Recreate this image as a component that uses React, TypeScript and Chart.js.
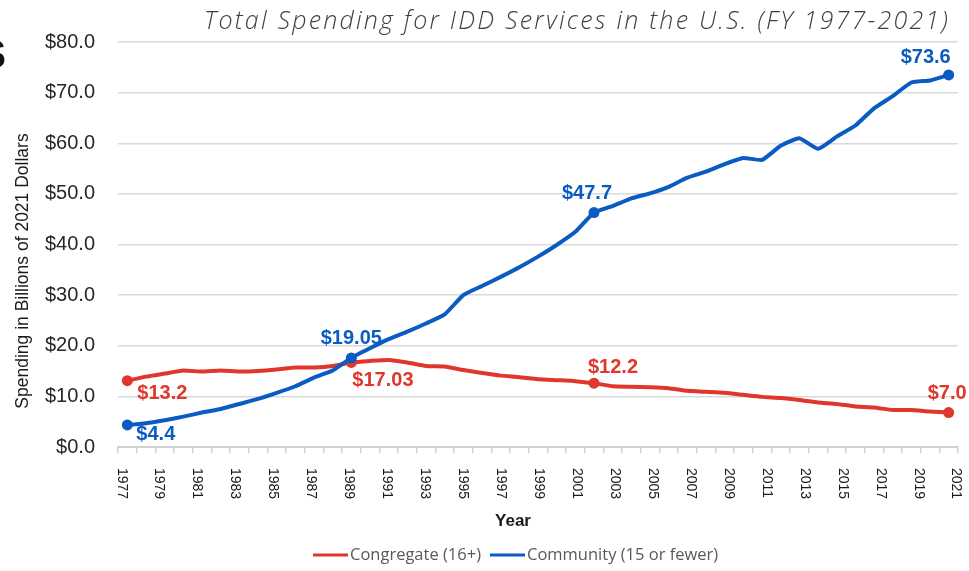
import React, { useEffect, useRef } from 'react';
import { Chart, registerables } from 'chart.js';

Chart.register(...registerables);

const TITLE = 'Total Spending for IDD Services in the U.S. (FY 1977-2021)';
const Y_TITLE = 'Spending in Billions of 2021 Dollars';
const X_TITLE = 'Year';

const years = [
  1977, 1978, 1979, 1980, 1981, 1982, 1983, 1984, 1985, 1986, 1987, 1988, 1989,
  1990, 1991, 1992, 1993, 1994, 1995, 1996, 1997, 1998, 1999, 2000, 2001, 2002,
  2003, 2004, 2005, 2006, 2007, 2008, 2009, 2010, 2011, 2012, 2013, 2014, 2015,
  2016, 2017, 2018, 2019, 2020, 2021,
];

const congregate = [
  13.1, 13.9, 14.5, 15.1, 14.9, 15.1, 14.9, 15.0, 15.3, 15.7, 15.7, 16.0, 16.7,
  17.0, 17.2, 16.7, 16.0, 15.9, 15.2, 14.6, 14.1, 13.8, 13.4, 13.2, 13.0, 12.6,
  12.0, 11.9, 11.8, 11.6, 11.1, 10.9, 10.7, 10.3, 9.9, 9.7, 9.3, 8.8, 8.5,
  8.0, 7.8, 7.3, 7.3, 7.0, 6.8,
];

const community = [
  4.35, 4.7, 5.3, 6.0, 6.8, 7.5, 8.5, 9.5, 10.7, 12.0, 13.7, 15.1, 17.6,
  19.5, 21.3, 22.8, 24.4, 26.2, 30.0, 31.8, 33.6, 35.5, 37.6, 39.9, 42.5, 46.3,
  47.6, 49.1, 50.1, 51.4, 53.2, 54.4, 55.9, 57.1, 56.7, 59.5, 61.0, 58.9, 61.3,
  63.5, 66.9, 69.3, 72.0, 72.4, 73.5,
];

const xTickLabels = [
  '1977', '1979', '1981', '1983', '1985', '1987', '1989', '1991', '1993', '1995',
  '1997', '1999', '2001', '2003', '2005', '2007', '2009', '2011', '2013', '2015',
  '2017', '2019', '2021',
];

const markerYears = [1977, 1989, 2002, 2021];
const congregateLabels = ['$13.2', '$17.03', '$12.2', '$7.0'];
const communityLabels = ['$4.4', '$19.05', '$47.7', '$73.6'];

const SERIES_NAMES = ['Congregate (16+)', 'Community (15 or fewer)'];
const RED = '#e0362b';
const BLUE = '#0a5bc2';

// label placement (style only): [align, dx, dy]
const congregatePlacement: [CanvasTextAlign, number, number][] = [
  ['left', 10, 13],
  ['left', 1, 18],
  ['left', -6, -16],
  ['left', -21, -19],
];
const communityPlacement: [CanvasTextAlign, number, number][] = [
  ['left', 9, 10],
  ['center', 0, -19],
  ['center', -7, -19],
  ['center', -23, -17],
];

const SANS = '"Liberation Sans", Arial, sans-serif';

const overlayPlugin = {
  id: 'overlay',
  afterDraw(chart: any) {
    const ctx: any = chart.ctx;
    const xs = chart.scales.x;
    const ca = chart.chartArea;
    ctx.save();

    // Title
    ctx.font = 'italic 300 25px "Open Sans", sans-serif';
    ctx.fillStyle = '#404040';
    ctx.textAlign = 'right';
    ctx.textBaseline = 'alphabetic';
    ctx.letterSpacing = '2.2px';
    ctx.fillText(TITLE, ca.right - 8, 29);
    ctx.letterSpacing = '0px';

    // cropped heading letter at far left
    ctx.font = `bold 40px ${SANS}`;
    ctx.fillStyle = '#111';
    ctx.textAlign = 'right';
    ctx.fillText('S', 6, 68);

    // Y title
    ctx.save();
    ctx.translate(23, 271);
    ctx.rotate(-Math.PI / 2);
    ctx.font = `17.5px ${SANS}`;
    ctx.fillStyle = '#1a1a1a';
    ctx.textAlign = 'center';
    ctx.textBaseline = 'middle';
    ctx.fillText(Y_TITLE, 0, 0);
    ctx.restore();

    // X tick labels (rotated clockwise)
    ctx.font = `14px ${SANS}`;
    ctx.fillStyle = '#1a1a1a';
    xTickLabels.forEach((lab) => {
      const i = years.indexOf(parseInt(lab, 10));
      const p = -0.32 + i * 1.0166;
      const px = xs.getPixelForValue(p);
      ctx.save();
      ctx.translate(px, ca.bottom + 21);
      ctx.rotate(Math.PI / 2);
      ctx.textAlign = 'left';
      ctx.textBaseline = 'middle';
      ctx.fillText(lab, 0, 0);
      ctx.restore();
    });

    // X title
    ctx.font = `bold 17px ${SANS}`;
    ctx.fillStyle = '#1a1a1a';
    ctx.textAlign = 'center';
    ctx.textBaseline = 'middle';
    ctx.fillText(X_TITLE, 513, 521);

    // Data labels
    const drawLabels = (dsIndex: number, labels: string[], placement: [CanvasTextAlign, number, number][], color: string) => {
      const meta = chart.getDatasetMeta(dsIndex);
      ctx.font = `bold 20px ${SANS}`;
      ctx.fillStyle = color;
      ctx.textBaseline = 'middle';
      markerYears.forEach((yr, k) => {
        const idx = years.indexOf(yr);
        const el = meta.data[idx];
        const [align, dx, dy] = placement[k];
        ctx.textAlign = align;
        ctx.fillText(labels[k], el.x + dx, el.y + dy);
      });
    };
    drawLabels(0, congregateLabels, congregatePlacement, RED);
    drawLabels(1, communityLabels, communityPlacement, BLUE);

    // Legend
    ctx.font = '16.5px "Open Sans", sans-serif';
    ctx.textAlign = 'left';
    ctx.textBaseline = 'middle';
    let lx = 313;
    const ly = 555;
    chart.data.datasets.forEach((ds: any) => {
      ctx.strokeStyle = ds.borderColor;
      ctx.lineWidth = 3;
      ctx.beginPath();
      ctx.moveTo(lx, ly);
      ctx.lineTo(lx + 35, ly);
      ctx.stroke();
      lx += 37;
      ctx.fillStyle = '#595959';
      ctx.fillText(ds.label, lx, ly);
      lx += ctx.measureText(ds.label).width + 9;
    });

    ctx.restore();
  },
};

export default function App() {
  const canvasRef = useRef<HTMLCanvasElement | null>(null);

  useEffect(() => {
    if (!canvasRef.current) return;
    const isMarker = (c: any) => markerYears.includes(years[c.dataIndex]);
    const chart = new Chart(canvasRef.current, {
      type: 'line',
      data: {
        labels: years.map(String),
        datasets: [
          {
            label: SERIES_NAMES[0],
            data: congregate,
            borderColor: RED,
            backgroundColor: RED,
            borderWidth: 4,
            pointRadius: (c: any) => (isMarker(c) ? 5.5 : 0),
            pointBackgroundColor: RED,
            pointBorderColor: RED,
            pointBorderWidth: 0,
            tension: 0.15,
            order: 1,
          },
          {
            label: SERIES_NAMES[1],
            data: community,
            borderColor: BLUE,
            backgroundColor: BLUE,
            borderWidth: 4,
            pointRadius: (c: any) => (isMarker(c) ? 5.5 : 0),
            pointBackgroundColor: BLUE,
            pointBorderColor: BLUE,
            pointBorderWidth: 0,
            tension: 0.15,
            order: 0,
          },
        ],
      },
      options: {
        animation: false,
        responsive: false,
        devicePixelRatio: 1,
        layout: { padding: { top: 42, right: 11, left: 0, bottom: 0 } },
        plugins: {
          legend: { display: false },
          tooltip: { enabled: false },
          title: { display: false },
        },
        scales: {
          x: {
            type: 'category',
            offset: true,
            grid: {
              offset: true,
              drawOnChartArea: false,
              drawTicks: true,
              tickLength: 6,
              color: '#d0d0d0',
              lineWidth: 1.5,
            },
            border: { display: true, color: '#d0d0d0', width: 2 },
            ticks: { display: false },
            afterFit: (s: any) => {
              s.height = 124;
            },
          },
          y: {
            min: 0,
            max: 80,
            ticks: {
              stepSize: 10,
              callback: (v: any) => '$' + Number(v).toFixed(1),
              font: { family: SANS, size: 20 },
              color: '#262626',
              padding: 23,
            },
            grid: { color: '#d9d9d9', lineWidth: 1.5, drawTicks: false },
            border: { display: false },
            afterFit: (s: any) => {
              s.width = 118;
            },
          },
        },
      },
      plugins: [overlayPlugin],
    } as any);
    return () => chart.destroy();
  }, []);

  return (
    <div style={{ position: 'fixed', left: 0, top: 0, width: 969, height: 571, background: '#fff' }}>
      <canvas ref={canvasRef} width={969} height={571} style={{ display: 'block', width: 969, height: 571 }} />
    </div>
  );
}
